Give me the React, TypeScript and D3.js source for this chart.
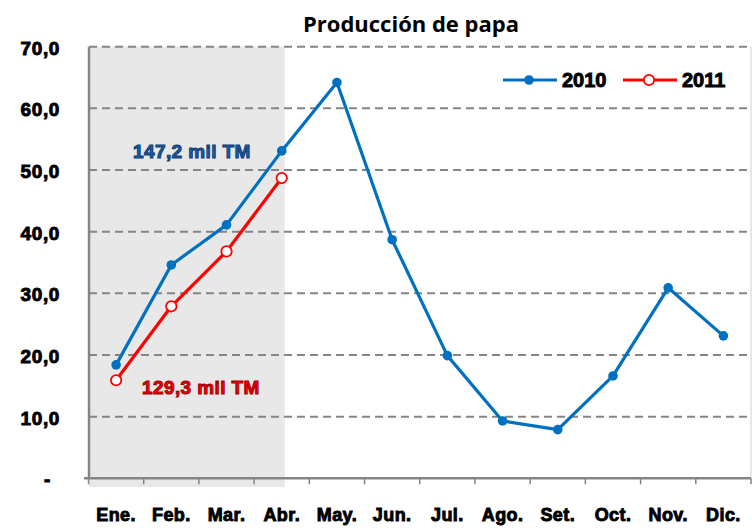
import React from "react";
import * as d3 from "d3";

const months = ["Ene.", "Feb.", "Mar.", "Abr.", "May.", "Jun.", "Jul.", "Ago.", "Set.", "Oct.", "Nov.", "Dic."];
const serie2010 = [18.4, 34.6, 41.1, 53.1, 64.2, 38.7, 19.9, 9.3, 7.9, 16.6, 30.9, 23.1];
const serie2011 = [15.9, 27.9, 36.8, 48.7];
const yTicks = [0, 10, 20, 30, 40, 50, 60, 70];
const years = ["2010", "2011"];
const notes = ["147,2 mil TM", "129,3 mil TM"];

const W = 752;
const H = 528;
const BLUE = "#0070C0";
const RED = "#FF0000";

const fmt = (v: number) => (v === 0 ? "-" : v.toFixed(1).replace(".", ","));

const boldText = {
  fontFamily: "'Liberation Sans', Arial, sans-serif",
  fontWeight: 700,
};

export default function App() {
  const x = d3.scaleBand<string>().domain(months).range([88.5, 751]);
  const y = d3.scaleLinear().domain([0, 70]).range([478.3, 46.7]);
  const cx = (m: string) => (x(m) as number) + x.bandwidth() / 2;

  const line = d3
    .line<number>()
    .x((_, i) => cx(months[i]))
    .y((d) => y(d));

  const shadeEnd = cx("Abr.") + 3;

  return (
    <svg
      width={W}
      height={H}
      style={{ position: "absolute", left: 0, top: 0, background: "#fff" }}
    >
      {/* area sombreada Ene-Abr */}
      <rect x={89} y={y(70)} width={shadeEnd - 89} height={487 - y(70)} fill="#E8E8E8" />

      {/* grid */}
      {yTicks.filter((t) => t > 0).map((t) => (
        <line
          key={t}
          x1={89}
          x2={751}
          y1={y(t)}
          y2={y(t)}
          stroke="#858585"
          strokeWidth={2}
          strokeDasharray="8,5"
        />
      ))}
      <line x1={751} x2={751} y1={y(70)} y2={y(0)} stroke="#D0D0D0" strokeWidth={1} />

      {/* ejes */}
      <line x1={89} x2={89} y1={y(70)} y2={y(0)} stroke="#858585" strokeWidth={2.5} />
      <line x1={84} x2={751} y1={y(0)} y2={y(0)} stroke="#858585" strokeWidth={2.5} />
      {months.map((m) => (
        <line
          key={m}
          x1={x(m) as number}
          x2={x(m) as number}
          y1={y(0)}
          y2={y(0) + 6}
          stroke="#858585"
          strokeWidth={1.5}
        />
      ))}
      <line x1={751} x2={751} y1={y(0)} y2={y(0) + 6} stroke="#858585" strokeWidth={1.5} />

      {/* etiquetas eje y */}
      {yTicks.map((t) => (
        <text
          key={t}
          x={t === 0 ? 51 : 60}
          y={y(t) + 8}
          textAnchor="end"
          fontSize={19}
          letterSpacing={0.6}
          stroke="#000"
          strokeWidth={0.9}
          style={boldText}
        >
          {fmt(t)}
        </text>
      ))}

      {/* etiquetas eje x */}
      {months.map((m) => (
        <text
          key={m}
          x={cx(m)}
          y={520.5}
          textAnchor="middle"
          fontSize={18}
          letterSpacing={0.4}
          stroke="#000"
          strokeWidth={0.9}
          style={boldText}
        >
          {m}
        </text>
      ))}

      {/* series */}
      <path d={line(serie2010) ?? ""} fill="none" stroke={BLUE} strokeWidth={3.2} strokeLinejoin="round" />
      {serie2010.map((v, i) => (
        <circle key={i} cx={cx(months[i])} cy={y(v)} r={4.8} fill={BLUE} />
      ))}
      <path d={line(serie2011) ?? ""} fill="none" stroke={RED} strokeWidth={3.2} strokeLinejoin="round" />
      {serie2011.map((v, i) => (
        <circle key={i} cx={cx(months[i])} cy={y(v)} r={5.2} fill="#fff" stroke={RED} strokeWidth={1.8} />
      ))}

      {/* anotaciones */}
      <text x={133} y={158} fontSize={19} letterSpacing={0.4} fill="#1F5FA5" stroke="#0B3D73" strokeWidth={1} style={boldText}>
        {notes[0]}
      </text>
      <text x={142} y={394} fontSize={19} letterSpacing={0.4} fill={RED} stroke="#A00000" strokeWidth={1} style={boldText}>
        {notes[1]}
      </text>

      {/* leyenda */}
      <g>
        <line x1={503} x2={557} y1={80} y2={80} stroke={BLUE} strokeWidth={3.2} />
        <circle cx={529} cy={80} r={4.8} fill={BLUE} />
        <text x={562} y={87} fontSize={20} stroke="#000" strokeWidth={0.9} style={boldText}>
          {years[0]}
        </text>
        <line x1={623} x2={677} y1={80} y2={80} stroke={RED} strokeWidth={3.2} />
        <circle cx={649} cy={80} r={5.2} fill="#fff" stroke={RED} strokeWidth={1.8} />
        <text x={682} y={87} fontSize={20} stroke="#000" strokeWidth={0.9} style={boldText}>
          {years[1]}
        </text>
      </g>

      {/* titulo */}
      <text
        x={411}
        y={32}
        textAnchor="middle"
        fontSize={22}
        fontWeight={700}
        fontFamily="'Open Sans', 'Noto Sans', sans-serif"
      >
        Producción de papa
      </text>
    </svg>
  );
}
